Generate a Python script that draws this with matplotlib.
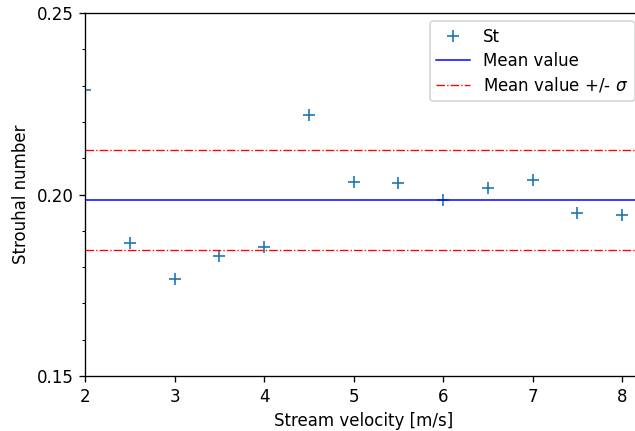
import matplotlib
matplotlib.use("Agg")
import matplotlib.pyplot as plt
from matplotlib.ticker import MultipleLocator

# Data
velocity = [2.0, 2.5, 3.0, 3.5, 4.0, 4.5, 5.0, 5.5, 6.0, 6.5, 7.0, 7.5, 8.0]
strouhal = [0.2288, 0.1866, 0.1767, 0.1831, 0.1855, 0.2219, 0.2034,
            0.2032, 0.1985, 0.2018, 0.2040, 0.1949, 0.1944]
mean_st = 0.1985
sigma_st = 0.0137

fig = plt.figure(figsize=(635 / 120, 431 / 120), dpi=120)
# axes run a bit past the right edge of the figure, as in the reference
ax = fig.add_axes([85 / 635, 55 / 431, 558 / 635, 363 / 431])

ax.plot(velocity, strouhal, '+', color='tab:blue', markersize=7, label='St')
ax.axhline(mean_st, color='b', linewidth=0.9, label='Mean value')
ax.axhline(mean_st + sigma_st, color='r', linestyle='-.', linewidth=0.8,
           label=r'Mean value +/- $\sigma$')
ax.axhline(mean_st - sigma_st, color='r', linestyle='-.', linewidth=0.8)

ax.set_xlim(2, 2 + 558 / 89.5)
ax.set_ylim(0.15, 0.25)
ax.set_xticks([2, 3, 4, 5, 6, 7, 8])
ax.set_yticks([0.15, 0.20, 0.25])
ax.yaxis.set_minor_locator(MultipleLocator(0.01))
ax.set_xlabel('Stream velocity [m/s]')
ax.set_ylabel('Strouhal number')
ax.legend(loc='upper right', labelspacing=0.35)

fig.savefig('out.png', dpi=120)
